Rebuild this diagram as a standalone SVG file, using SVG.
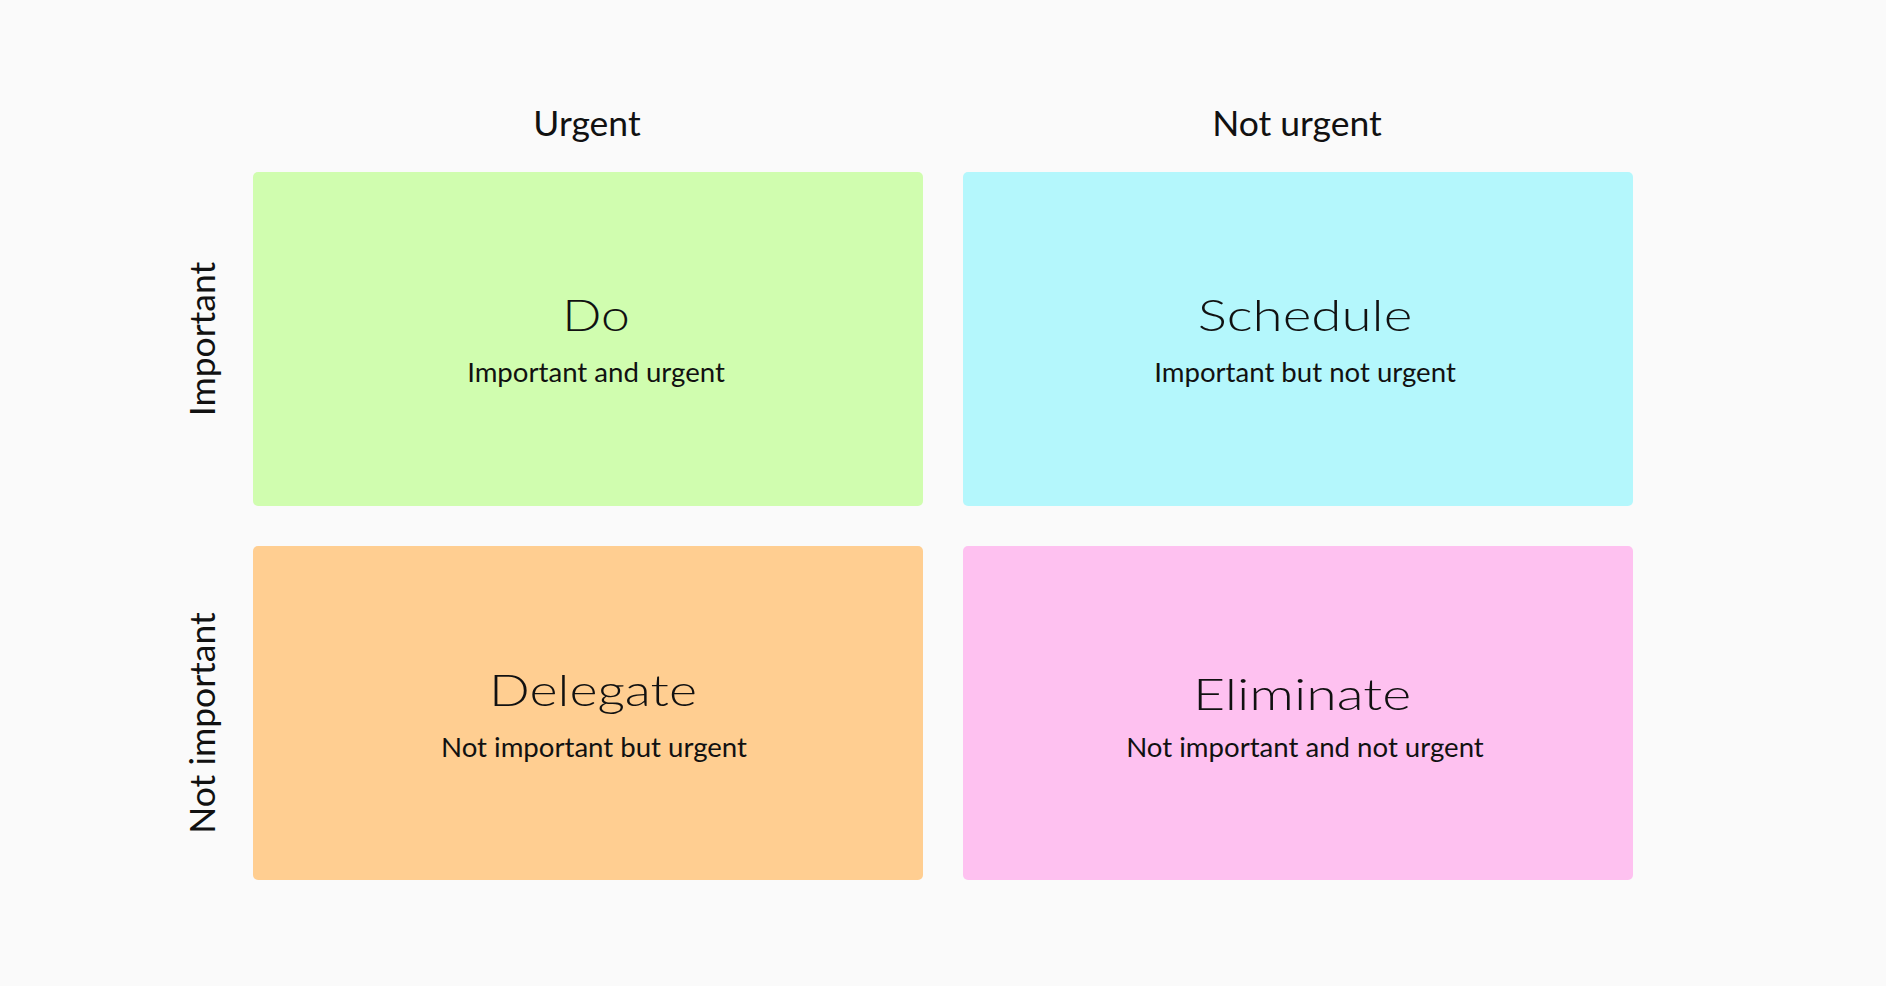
<svg xmlns="http://www.w3.org/2000/svg" width="1886" height="986" viewBox="0 0 1886 986">
<style>
.axis{font-family:Lato,"Liberation Sans",sans-serif;font-size:35.5px;fill:#111;text-anchor:middle}
.title{font-family:Lato,"Liberation Sans",sans-serif;font-weight:300;font-size:43px;fill:#111;text-anchor:middle}
.sub{font-family:Lato,"Liberation Sans",sans-serif;font-size:27.6px;fill:#111;text-anchor:middle}
</style>
<rect width="1886" height="986" fill="#fafafa"/>
<g id="axis-labels">
<text class="axis" x="587" y="136">Urgent</text>
<text class="axis" x="1297" y="136">Not urgent</text>
<text class="axis" transform="translate(215,339) rotate(-90)">Important</text>
<text class="axis" transform="translate(215,723) rotate(-90)">Not important</text>
</g>
<g id="do">
<rect x="253" y="172" width="670" height="334" rx="5" fill="#d0fdaf"/>
<text class="title" transform="translate(596,331) scale(1.2,1)">Do</text>
<text class="sub" x="596" y="382">Important and urgent</text>
</g>
<g id="schedule">
<rect x="963" y="172" width="670" height="334" rx="5" fill="#b4f7fc"/>
<text class="title" transform="translate(1305,331) scale(1.275,1)">Schedule</text>
<text class="sub" x="1305" y="382">Important but not urgent</text>
</g>
<g id="delegate">
<rect x="253" y="546" width="670" height="334" rx="5" fill="#ffce91"/>
<text class="title" transform="translate(593,706) scale(1.25,1)">Delegate</text>
<text class="sub" x="594" y="757">Not important but urgent</text>
</g>
<g id="eliminate">
<rect x="963" y="546" width="670" height="334" rx="5" fill="#fec1f0"/>
<text class="title" transform="translate(1302,710) scale(1.29,1)">Eliminate</text>
<text class="sub" x="1305" y="757">Not important and not urgent</text>
</g>
<g id="connectors"/>
</svg>
